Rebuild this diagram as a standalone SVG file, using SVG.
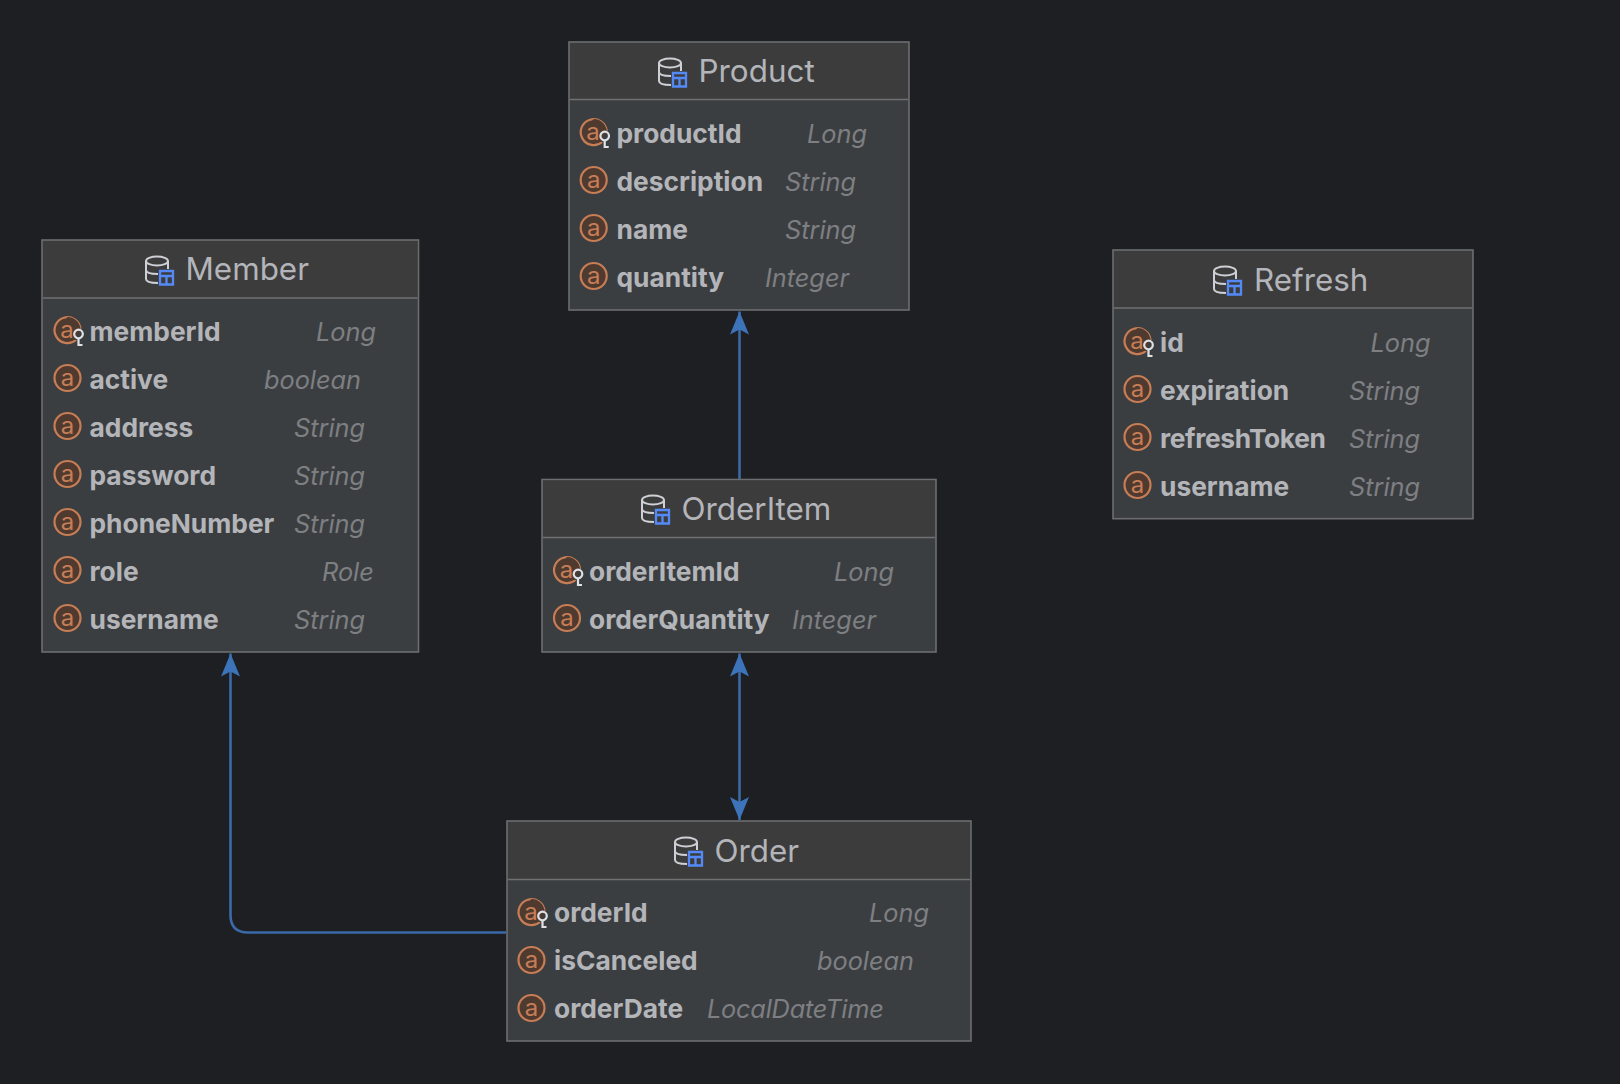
<svg xmlns="http://www.w3.org/2000/svg" width="1620" height="1084" viewBox="0 0 1620 1084">
<style>
text{font-family:Inter,"Noto Sans","Liberation Sans",sans-serif}
.box{fill:#3b3e41;stroke:#6c6d6e;stroke-width:1.6}
.head{fill:#3d3c3c}
.sep{stroke:#6f7071;stroke-width:1.6}
.title{font-size:31.400px;fill:#b3b5ba}
.name{font-size:26.350px;font-weight:700;fill:#b4b5b9}
.type{font-size:25.300px;font-style:italic;fill:#7e7f82}
.ic{fill:#4f3a30;stroke:#c77d55;stroke-width:2.2}
.ica{font-size:24px;fill:#c77d55;text-anchor:middle}
.conn{fill:none;stroke:#3a6aa8;stroke-width:2.6}
.db{fill:none;stroke:#ced0d6;stroke-width:2}
.tb{fill:none;stroke:#548af7;stroke-width:2.300}
.key{fill:none;stroke:#dfe1e5;stroke-width:2.200}
</style>
<defs>
<marker id="ah" markerUnits="userSpaceOnUse" markerWidth="24" markerHeight="20" refX="23" refY="10" orient="auto-start-reverse" viewBox="0 0 24 20"><path d="M23 10L0 .5L5 10L0 19.500Z" fill="#3d73b8"/></marker>
<g id="dbi">
<ellipse class="db" cx="11" cy="5" rx="11" ry="4.500"/>
<path class="db" d="M0 5V23C0 25.500 5 27 12 27M0 14C0 16.500 5 18 12 18M22 5V13"/>
<path class="tb" d="M14 15H27V28.500H14ZM14 20H27M20.500 20V28.500"/>
</g>
<circle id="at" class="ic" r="13"/>
<g id="atk">
<path class="ic" d="M8.500 10A13 13 0 1 1 13 -1"/>
<path d="M0 -13A13 13 0 0 0 8.500 10L7 2L13 -1A13 13 0 0 0 0 -13Z" fill="#4f3a30"/>
<circle class="key" cx="11" cy="4" r="4.300"/>
<path class="key" d="M11 8.300V16M11 15H15"/>
</g>
</defs>
<rect width="1620" height="1084" fill="#1e1f22"/>
<g id="connectors">
<path class="conn" marker-end="url(#ah)" d="M739.500 479V311.500"/>
<path class="conn" marker-start="url(#ah)" marker-end="url(#ah)" d="M739.500 653.500V820"/>
<path class="conn" marker-end="url(#ah)" d="M506 932.500H248Q230.500 932.500 230.500 915V653.500"/>
</g>
<g id="product">
<rect class="box" x="569" y="42" width="340" height="268"/>
<rect class="head" x="570" y="43" width="338" height="56"/>
<line class="sep" x1="570" y1="99.500" x2="908" y2="99.500"/>
<use href="#dbi" x="659" y="58"/>
<text class="title" x="698.500" y="82">Product</text>
<use href="#atk" x="593.700" y="132"/><text class="ica" x="593" y="140">a</text>
<text class="name" x="616.500" y="143">productId</text><text class="type" x="807" y="143">Long</text>
<use href="#at" x="593.700" y="180"/><text class="ica" x="593.700" y="188">a</text>
<text class="name" x="616.500" y="191">description</text><text class="type" x="785" y="191">String</text>
<use href="#at" x="593.700" y="228"/><text class="ica" x="593.700" y="236">a</text>
<text class="name" x="616.500" y="239">name</text><text class="type" x="785" y="239">String</text>
<use href="#at" x="593.700" y="276"/><text class="ica" x="593.700" y="284">a</text>
<text class="name" x="616.500" y="287">quantity</text><text class="type" x="765" y="287">Integer</text>
</g>
<g id="member">
<rect class="box" x="42" y="240" width="376.500" height="412"/>
<rect class="head" x="43" y="241" width="374.500" height="56.500"/>
<line class="sep" x1="43" y1="298" x2="417.500" y2="298"/>
<use href="#dbi" x="146" y="256"/>
<text class="title" x="185.500" y="280">Member</text>
<use href="#atk" x="67.500" y="330"/><text class="ica" x="67" y="338">a</text>
<text class="name" x="89.500" y="341">memberId</text><text class="type" x="316" y="341">Long</text>
<use href="#at" x="67.500" y="378"/><text class="ica" x="67.500" y="386">a</text>
<text class="name" x="89.500" y="389">active</text><text class="type" x="264" y="389">boolean</text>
<use href="#at" x="67.500" y="426"/><text class="ica" x="67.500" y="434">a</text>
<text class="name" x="89.500" y="437">address</text><text class="type" x="294" y="437">String</text>
<use href="#at" x="67.500" y="474"/><text class="ica" x="67.500" y="482">a</text>
<text class="name" x="89.500" y="485">password</text><text class="type" x="294" y="485">String</text>
<use href="#at" x="67.500" y="522"/><text class="ica" x="67.500" y="530">a</text>
<text class="name" x="89.500" y="533">phoneNumber</text><text class="type" x="294" y="533">String</text>
<use href="#at" x="67.500" y="570"/><text class="ica" x="67.500" y="578">a</text>
<text class="name" x="89.500" y="581">role</text><text class="type" x="322" y="581">Role</text>
<use href="#at" x="67.500" y="618"/><text class="ica" x="67.500" y="626">a</text>
<text class="name" x="89.500" y="629">username</text><text class="type" x="294" y="629">String</text>
</g>
<g id="orderitem">
<rect class="box" x="542" y="479.500" width="394" height="172.500"/>
<rect class="head" x="543" y="480.500" width="392" height="56.500"/>
<line class="sep" x1="543" y1="537.500" x2="935" y2="537.500"/>
<use href="#dbi" x="642" y="495"/>
<text class="title" x="681.500" y="520">OrderItem</text>
<use href="#atk" x="567" y="570"/><text class="ica" x="566.500" y="578">a</text>
<text class="name" x="589" y="581">orderItemId</text><text class="type" x="834" y="581">Long</text>
<use href="#at" x="567" y="618"/><text class="ica" x="567" y="626">a</text>
<text class="name" x="589" y="629">orderQuantity</text><text class="type" x="792" y="629">Integer</text>
</g>
<g id="order">
<rect class="box" x="507" y="821" width="464" height="220"/>
<rect class="head" x="508" y="822" width="462" height="57"/>
<line class="sep" x1="508" y1="879.500" x2="970" y2="879.500"/>
<use href="#dbi" x="675" y="837"/>
<text class="title" x="714.500" y="862">Order</text>
<use href="#atk" x="531.500" y="912"/><text class="ica" x="531" y="920">a</text>
<text class="name" x="554" y="922">orderId</text><text class="type" x="869" y="922">Long</text>
<use href="#at" x="531.500" y="960"/><text class="ica" x="531.500" y="968">a</text>
<text class="name" x="554" y="970">isCanceled</text><text class="type" x="817" y="970">boolean</text>
<use href="#at" x="531.500" y="1008"/><text class="ica" x="531.500" y="1016">a</text>
<text class="name" x="554" y="1018">orderDate</text><text class="type" x="707" y="1018" style="letter-spacing:-.2px">LocalDateTime</text>
</g>
<g id="refresh">
<rect class="box" x="1113" y="250" width="360" height="268.700"/>
<rect class="head" x="1114" y="251" width="358" height="56.500"/>
<line class="sep" x1="1114" y1="308" x2="1472" y2="308"/>
<use href="#dbi" x="1214" y="266"/>
<text class="title" x="1254" y="291">Refresh</text>
<use href="#atk" x="1137.500" y="341"/><text class="ica" x="1137" y="349">a</text>
<text class="name" x="1160" y="351.500">id</text><text class="type" x="1370.500" y="351.500">Long</text>
<use href="#at" x="1137.500" y="389"/><text class="ica" x="1137.500" y="397">a</text>
<text class="name" x="1160" y="399.500">expiration</text><text class="type" x="1349" y="399.500">String</text>
<use href="#at" x="1137.500" y="437"/><text class="ica" x="1137.500" y="445">a</text>
<text class="name" x="1160" y="447.500" style="letter-spacing:-.35px">refreshToken</text><text class="type" x="1349" y="447.500">String</text>
<use href="#at" x="1137.500" y="485"/><text class="ica" x="1137.500" y="493">a</text>
<text class="name" x="1160" y="495.500">username</text><text class="type" x="1349" y="495.500">String</text>
</g>
</svg>
